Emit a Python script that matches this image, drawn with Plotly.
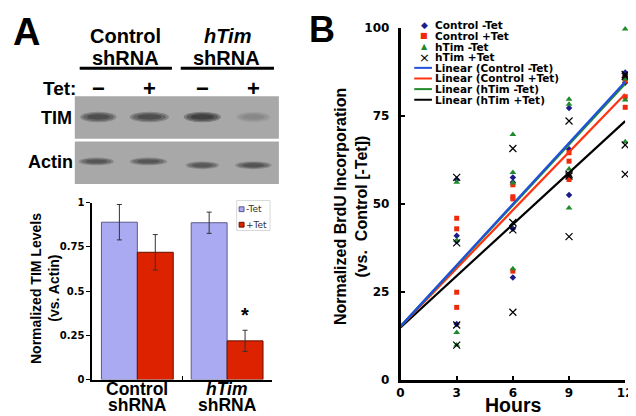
import plotly.graph_objects as go

W, H = 636, 416
def px(x): return x / W
def py(y): return 1 - y / H

ARIAL = "Liberation Sans, Arial, sans-serif"
VERD = "DejaVu Sans, Verdana, sans-serif"

# ---------------- Panel A data ----------------
groups = ["Control", "hTim"]
group_line1 = ["Control", "<i>hTim</i>"]
group_line2 = ["shRNA", "shRNA"]
tet_minus = [0.89, 0.887]
tet_minus_err = [0.10, 0.06]
tet_plus = [0.72, 0.219]
tet_plus_err = [0.10, 0.06]
bar_tickvals = [0, 0.25, 0.5, 0.75, 1]
bar_ticktext = ["0", "0.25", "0.5", "0.75", "1"]
lane_tet = ["−", "+", "−", "+"]
tim_band = [0.8, 0.8, 1.0, 0.22]
actin_band = [0.7, 0.7, 0.68, 0.72]

# ---------------- Panel B data ----------------
hours = [3, 6, 9, 12]
ctrl_minus = [[57.0, 41.0, 39.5, 16.0], [57.6, 56.2, 43.0, 29.2],
              [77.3, 65.6, 58.0, 52.6], [87.4, 86.5, 85.5, 84.5]]
ctrl_plus = [[46.0, 43.0, 25.0, 20.7], [55.5, 52.1, 51.5, 31.0],
             [64.6, 62.2, 57.6, 57.0], [80.5, 77.5, 86.0, 85.0]]
htim_minus = [[56.2, 39.7, 13.6, 10.0], [69.8, 59.0, 56.0, 31.7],
              [79.8, 78.4, 60.0, 48.9], [99.7, 85.5, 79.6, 67.7]]
htim_plus = [[57.6, 39.0, 15.7, 10.0], [65.8, 44.8, 42.7, 19.3],
             [73.6, 58.5, 58.0, 40.8], [86.8, 86.3, 66.8, 58.5]]
series_names = ["Control -Tet", "Control +Tet", "hTim -Tet", "hTim +Tet"]
fit_intercept = [15.3, 15.3, 15.3, 15.0]
fit_slope = [5.79, 5.50, 5.74, 4.88]
fit_hours = [0, 12]
b_tickvals = [0, 25, 50, 75, 100]
b_xtickvals = [0, 3, 6, 9, 12]

fig = go.Figure()

# ---- Bars (panel A) ----
fig.add_trace(go.Bar(x=groups, y=tet_minus, name="-Tet",
                     marker=dict(color="#aaaaf2", line=dict(color="#5a5a8a", width=1)),
                     error_y=dict(type="data", array=tet_minus_err, color="#333333",
                                  thickness=1, width=2.5),
                     xaxis="x", yaxis="y", showlegend=False))
fig.add_trace(go.Bar(x=groups, y=tet_plus, name="+Tet",
                     marker=dict(color="#dd2200", line=dict(color="#661100", width=1)),
                     error_y=dict(type="data", array=tet_plus_err, color="#333333",
                                  thickness=1, width=2.5),
                     xaxis="x", yaxis="y", showlegend=False))

# ---- Scatter (panel B) ----
all_series = [ctrl_minus, ctrl_plus, htim_minus, htim_plus]
mcolors = ["#1c1c8a", "#ee2a0a", "#1f8a2a", "#000000"]
msymbols = ["diamond", "square", "triangle-up", "x-thin-open"]
msizes = [5, 5, 6, 7]
lcolors = ["#2050dd", "#ff3311", "#1f8a2a", "#000000"]

for i in range(4):
    xs, ys = [], []
    for h, vals in zip(hours, all_series[i]):
        xs += [h] * len(vals)
        ys += vals
    mk = dict(color=mcolors[i], size=msizes[i], symbol=msymbols[i])
    if msymbols[i] == "x-thin-open":
        mk["line"] = dict(color=mcolors[i], width=1.2)
    fig.add_trace(go.Scatter(x=xs, y=ys, mode="markers", marker=mk,
                             name=series_names[i], xaxis="x2", yaxis="y2",
                             showlegend=False, cliponaxis=False))

order = [3, 1, 2, 0]
for i in order:
    ys = [fit_intercept[i] + fit_slope[i] * h for h in fit_hours]
    fig.add_trace(go.Scatter(x=fit_hours, y=ys, mode="lines",
                             line=dict(color=lcolors[i], width=2.2),
                             name="Linear (" + series_names[i] + ")",
                             xaxis="x2", yaxis="y2", showlegend=False))

shapes = []
ann = []

def text(x, y, s, size, family=ARIAL, bold=True, italic=False, xanchor="center",
         color="black", angle=0):
    ann.append(dict(x=px(x), y=py(y), xref="paper", yref="paper", text=s,
                    showarrow=False, xanchor=xanchor, yanchor="middle",
                    textangle=angle, borderpad=0,
                    font=dict(size=size, family=family, color=color,
                              weight="bold" if bold else "normal",
                              style="italic" if italic else "normal")))

# Panel letters
text(15, 18, "A", 38)
text(316, 15, "B", 36)

# Panel A header
text(116, 22, "Control", 20)
text(116, 45, "shRNA", 20)
text(220, 22, "hTim", 20, italic=True)
text(219, 45, "shRNA", 20)
for x0, x1 in [(69, 163), (172, 267)]:
    shapes.append(dict(type="line", xref="paper", yref="paper", x0=px(x0), x1=px(x1),
                       y0=py(55), y1=py(55), line=dict(color="black", width=3)))
text(48, 76, "Tet:", 19)
lane_x = [88, 140, 194, 246]
for lx, s in zip(lane_x, lane_tet):
    text(lx, 76, s, 22)

# Blot boxes
for y0, y1 in [(84, 128), (131, 175)]:
    shapes.append(dict(type="rect", xref="paper", yref="paper", x0=px(64), x1=px(272),
                       y0=py(y0), y1=py(y1), fillcolor="#a8a8a8", line=dict(width=0),
                       layer="below"))
text(62, 107, "TIM", 18, xanchor="right")
text(63, 152, "Actin", 18, xanchor="right")

def band(cx, cy, w, h, inten):
    for sw, sh, op in [(1.0, 1.0, 0.30), (0.85, 0.75, 0.35), (0.62, 0.5, 0.4)]:
        shapes.append(dict(type="circle", xref="paper", yref="paper",
                           x0=px(cx - w * sw / 2), x1=px(cx + w * sw / 2),
                           y0=py(cy - h * sh / 2), y1=py(cy + h * sh / 2),
                           fillcolor="#1a1a1a", opacity=op * inten, line=dict(width=0)))

tim_w = [37, 40, 38, 35]
for lx, w, inten in zip(lane_x, tim_w, tim_band):
    band(lx, 105.5, w, 11, inten)
act_x = [86, 139, 194, 246]
act_y = [151.5, 151.5, 155.5, 155.5]
act_w = [36, 38, 34, 37]
for lx, ly, w, inten in zip(act_x, act_y, act_w, actin_band):
    band(lx, ly, w, 8, inten)

# Bar chart labels
text(25, 283, "Normalized TIM Levels", 14, angle=-90)
text(43, 283, "(vs. Actin)", 14, angle=-90)
for i in range(len(groups)):
    ann.append(dict(x=i, y=py(387), xref="x", yref="paper", text=group_line1[i],
                    showarrow=False, xanchor="center", yanchor="middle", borderpad=0,
                    font=dict(size=17.5, family=ARIAL, weight="bold", color="black")))
    ann.append(dict(x=i, y=py(404), xref="x", yref="paper", text=group_line2[i],
                    showarrow=False, xanchor="center", yanchor="middle", borderpad=0,
                    font=dict(size=17.5, family=ARIAL, weight="bold", color="black")))
ann.append(dict(x=1, y=tet_plus[1] + tet_plus_err[1], xref="x", yref="y", text="*",
                xshift=18.3, yshift=2, showarrow=False, xanchor="center", yanchor="bottom",
                font=dict(size=20, family=ARIAL, weight="bold", color="black")))

# Panel A legend
shapes.append(dict(type="rect", xref="paper", yref="paper", x0=px(229), x1=px(263),
                   y0=py(192), y1=py(223), fillcolor="white",
                   line=dict(color="#d8d8d8", width=1)))
for yy, col, lc, lab in [(201, "#aaaaf2", "#5a5a8a", "-Tet"), (217, "#dd2200", "#661100", "+Tet")]:
    shapes.append(dict(type="rect", xref="paper", yref="paper", x0=px(231.5), x1=px(236.5),
                       y0=py(yy - 2.5), y1=py(yy + 2.5), fillcolor=col,
                       line=dict(color=lc, width=1)))
    text(237, yy, lab, 9, family=VERD, bold=False, xanchor="left", color="#333333")

# Panel B labels
text(335, 198, "Normalized BrdU Incorporation", 16, angle=-90)
text(356, 198, "(vs.  Control [-Tet])", 16, angle=-90)
text(511, 404, "Hours", 19.5)

# Panel B legend
sym_chars = ["◆", "■", "▲", "×"]
sym_sizes = [9, 8, 8, 13]
for i in range(4):
    yy = 10.7 + 11 * i
    text(420, yy, sym_chars[i], sym_sizes[i], family=VERD, bold=False, color=mcolors[i])
    text(430, yy, series_names[i], 10.5, family=VERD, xanchor="left")
for j in range(4):
    yy = 10.7 + 11 * (4 + j)
    shapes.append(dict(type="line", xref="paper", yref="paper", x0=px(410), x1=px(428),
                       y0=py(yy), y1=py(yy), line=dict(color=lcolors[j], width=2)))
    text(430, yy, "Linear (" + series_names[j] + ")", 10.5, family=VERD, xanchor="left")

fig.update_layout(
    width=W, height=H, margin=dict(l=0, r=0, t=0, b=0),
    paper_bgcolor="white", plot_bgcolor="rgba(0,0,0,0)",
    barmode="group", bargap=0.2, bargroupgap=0,
    showlegend=False,
    shapes=shapes, annotations=ann,
    xaxis=dict(domain=[px(82), px(265)], anchor="y", type="category",
               range=[-0.5, 1.5], showline=True, linecolor="black", linewidth=2,
               ticks="inside", ticklen=4, tickcolor="black", tickson="boundaries",
               showticklabels=False, showgrid=False, zeroline=False, fixedrange=True),
    yaxis=dict(domain=[py(377.3), py(194.3)], anchor="x", range=[0, 1],
               tickvals=bar_tickvals, ticktext=bar_ticktext,
               showline=True, linecolor="black", linewidth=2,
               ticks="outside", ticklen=4, tickcolor="black",
               tickfont=dict(family=VERD, size=10, weight="bold", color="black"),
               showgrid=False, zeroline=False),
    xaxis2=dict(domain=[px(396), px(625)], anchor="y2", range=[0, 12],
                tickvals=b_xtickvals, showline=True, linecolor="black", linewidth=2.5,
                ticks="inside", ticklen=5, tickcolor="black", tickwidth=2,
                tickfont=dict(family=VERD, size=12, weight="bold", color="black"),
                showgrid=False, zeroline=False),
    yaxis2=dict(domain=[py(378), py(13.5)], anchor="x2", range=[0, 100],
                tickvals=b_tickvals, showline=True, linecolor="black", linewidth=2.5,
                ticks="inside", ticklen=5, tickcolor="black", tickwidth=2,
                ticklabelstandoff=6,
                tickfont=dict(family=VERD, size=12, weight="bold", color="black"),
                showgrid=False, zeroline=False),
)

fig.write_html("out.html")
